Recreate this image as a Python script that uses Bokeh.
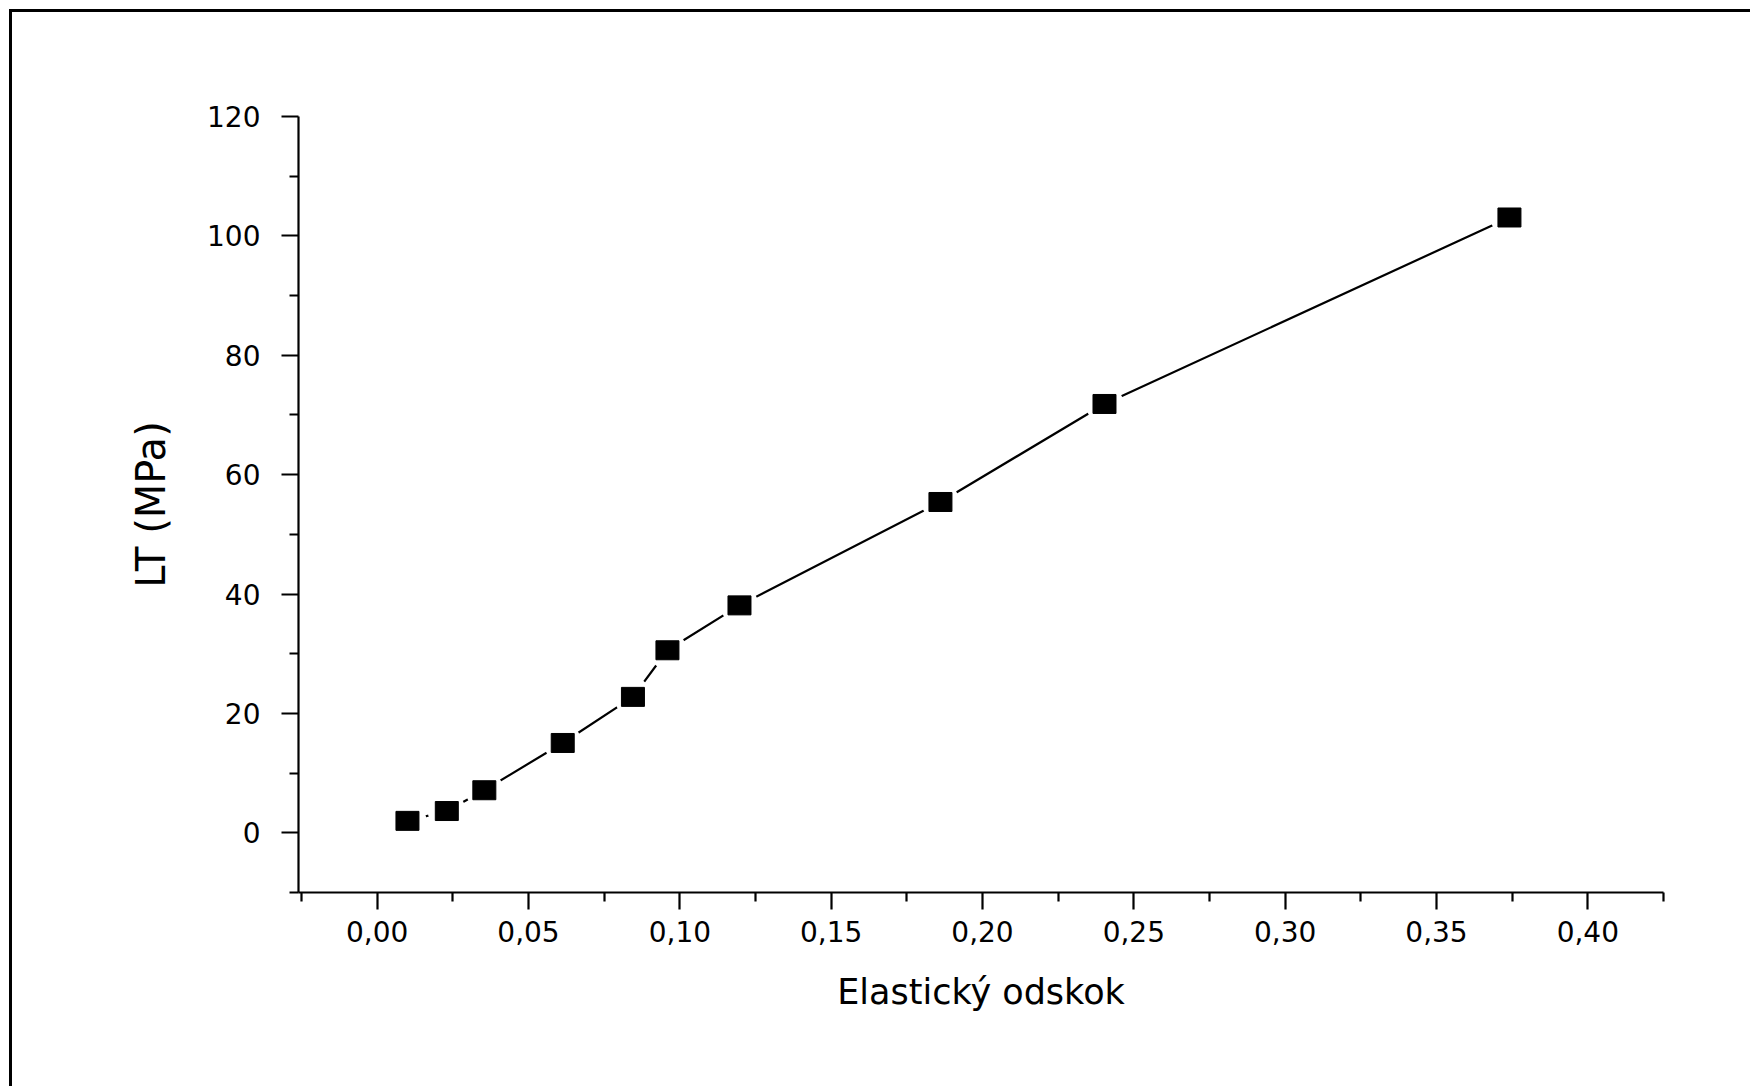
from bokeh.plotting import figure
from bokeh.models import FixedTicker, CustomJSTickFormatter, Range1d
from bokeh.embed import file_html
from bokeh.resources import INLINE

# ---- data ----
elastic_rebound = [0.010, 0.023, 0.0354, 0.0613, 0.0845, 0.0959, 0.1197, 0.1861, 0.2403, 0.3741]
lt_mpa = [2.0, 3.65, 7.13, 15.05, 22.77, 30.58, 38.1, 55.42, 71.84, 103.08]

x_ticks = [0.0, 0.05, 0.10, 0.15, 0.20, 0.25, 0.30, 0.35, 0.40]
x_minor = [-0.025, 0.025, 0.075, 0.125, 0.175, 0.225, 0.275, 0.325, 0.375, 0.425]
y_ticks = [0, 20, 40, 60, 80, 100, 120]
y_minor = [-10, 10, 30, 50, 70, 90, 110]

x_title = "Elastický odskok"
y_title = "LT (MPa)"

FONT = "DejaVu Sans"

p = figure(width=1741, height=1077, output_backend="svg", toolbar_location=None,
           x_range=Range1d(-0.026, 0.425), y_range=Range1d(-10, 120),
           min_border_left=286, min_border_right=90, min_border_top=104, min_border_bottom=197)
p.styles = {"margin-left": "9px", "margin-top": "9px",
            "border-left": "3px solid black", "border-top": "3px solid black"}

p.xgrid.visible = False
p.ygrid.visible = False
p.outline_line_color = None
p.background_fill_color = "white"
p.border_fill_color = "white"

# series: line, white gap discs, black rectangular markers
p.line(elastic_rebound, lt_mpa, line_color="black", line_width=2.2)
p.scatter(elastic_rebound, lt_mpa, marker="circle", size=38, fill_color="white", line_color=None)
p.rect(elastic_rebound, lt_mpa, width=23, height=19, width_units="screen", height_units="screen",
       fill_color="black", line_color="black")

for ax in (p.xaxis[0], p.yaxis[0]):
    ax.axis_line_width = 2.2
    ax.axis_line_color = "black"
    ax.major_tick_line_width = 2.2
    ax.minor_tick_line_width = 2.2
    ax.major_tick_in = 0
    ax.major_tick_out = 17
    ax.minor_tick_in = 0
    ax.minor_tick_out = 9
    ax.major_label_text_font = FONT
    ax.major_label_text_font_size = "28px"
    ax.major_label_text_color = "black"
    ax.axis_label_text_font = FONT
    ax.axis_label_text_font_style = "normal"
    ax.axis_label_text_color = "black"

p.xaxis.ticker = FixedTicker(ticks=x_ticks, minor_ticks=x_minor)
p.yaxis.ticker = FixedTicker(ticks=y_ticks, minor_ticks=y_minor)
p.xaxis.formatter = CustomJSTickFormatter(code="return tick.toFixed(2).replace('.', ',');")
p.yaxis.formatter = CustomJSTickFormatter(code="return tick.toFixed(0);")

p.xaxis.axis_label = x_title
p.yaxis.axis_label = y_title
p.xaxis.axis_label_text_font_size = "35px"
p.yaxis.axis_label_text_font_size = "40px"
p.xaxis.major_label_standoff = 11
p.yaxis.major_label_standoff = 21
p.xaxis.axis_label_standoff = 27
p.yaxis.axis_label_standoff = 30

open("out.html", "w").write(file_html(p, INLINE))
